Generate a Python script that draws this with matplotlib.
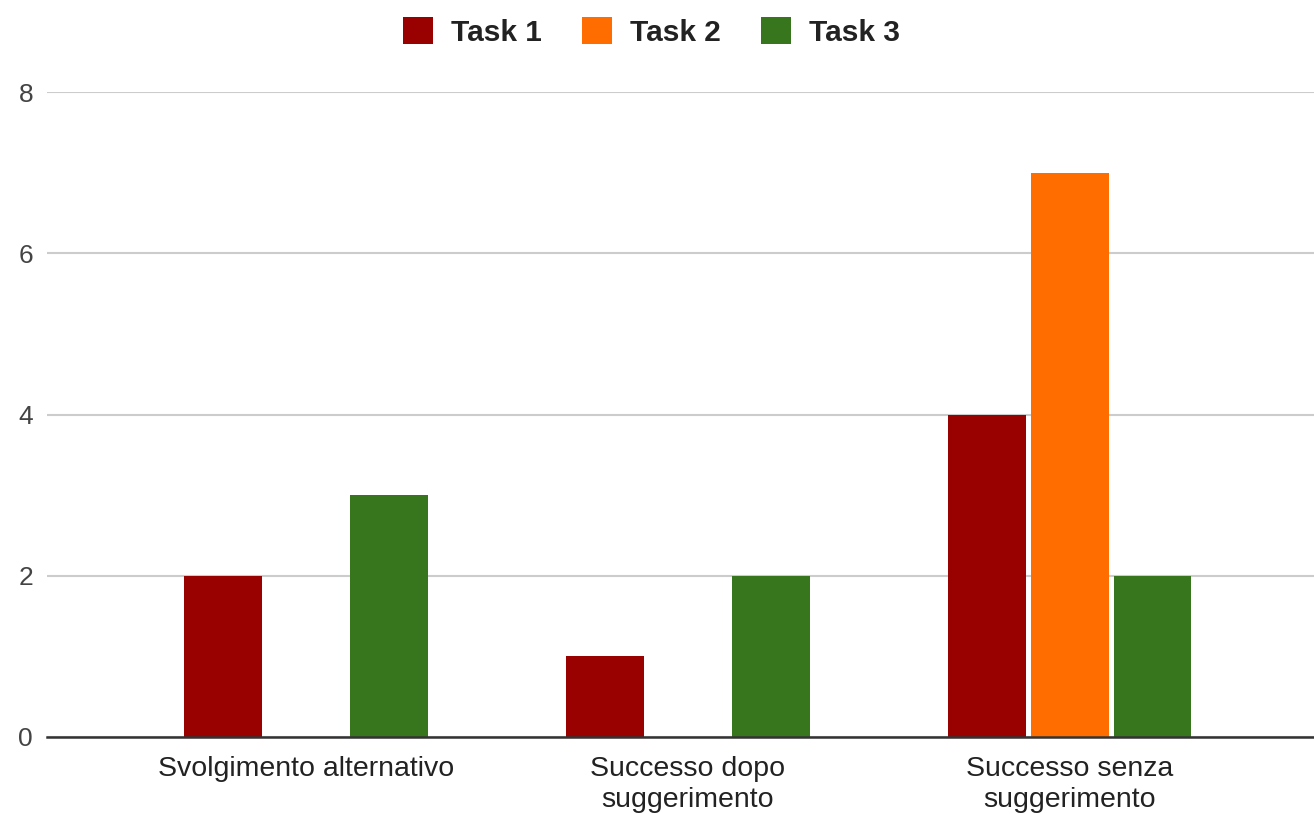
import numpy as np
import matplotlib.pyplot as plt

plt.rcParams['font.family'] = ['Liberation Sans', 'DejaVu Sans']

categories = ['Svolgimento alternativo', 'Successo dopo\nsuggerimento', 'Successo senza\nsuggerimento']
series = ['Task 1', 'Task 2', 'Task 3']
task1 = [2, 1, 4]
task2 = [0, 0, 7]
task3 = [3, 2, 2]
colors = ['#990000', '#ff6d01', '#38761d']

fig = plt.figure(figsize=(13.14, 8.14), dpi=100)
ax = fig.add_axes([47 / 1314, 77 / 814, 1 - 47 / 1314, (737 - 92) / 814])

x = np.arange(len(categories))
step = 0.217
width = 0.204
for i, (name, vals, c) in enumerate(zip(series, [task1, task2, task3], colors)):
    ax.bar(x + (i - 1) * step, vals, width, color=c, label=name, zorder=3)

ax.set_xlim(-0.678, 2.64)
ax.set_ylim(0, 8)
ax.set_yticks([0, 2, 4, 6, 8])
ax.set_xticks(x)
ax.set_xticklabels(categories, fontsize=20.5, color='#222222', linespacing=1.25)
ax.tick_params(axis='y', length=0, pad=10, labelsize=19, labelcolor='#444444')
ax.tick_params(axis='x', length=0, pad=14)
ax.grid(axis='y', color='#cccccc', lw=1.5, zorder=0)
for s in ['top', 'right', 'left']:
    ax.spines[s].set_visible(False)
ax.spines['bottom'].set_color('#333333')
ax.spines['bottom'].set_linewidth(1.8)
ax.spines['bottom'].set_zorder(4)

leg = fig.legend(loc='upper center', bbox_to_anchor=(0.496, 1.012), ncol=3, frameon=False,
                 prop={'weight': 'bold', 'size': 21.5}, handlelength=1.0, handleheight=1.0,
                 columnspacing=1.35, handletextpad=0.6)
for t in leg.get_texts():
    t.set_color('#222222')

fig.savefig('out.png', dpi=100)
